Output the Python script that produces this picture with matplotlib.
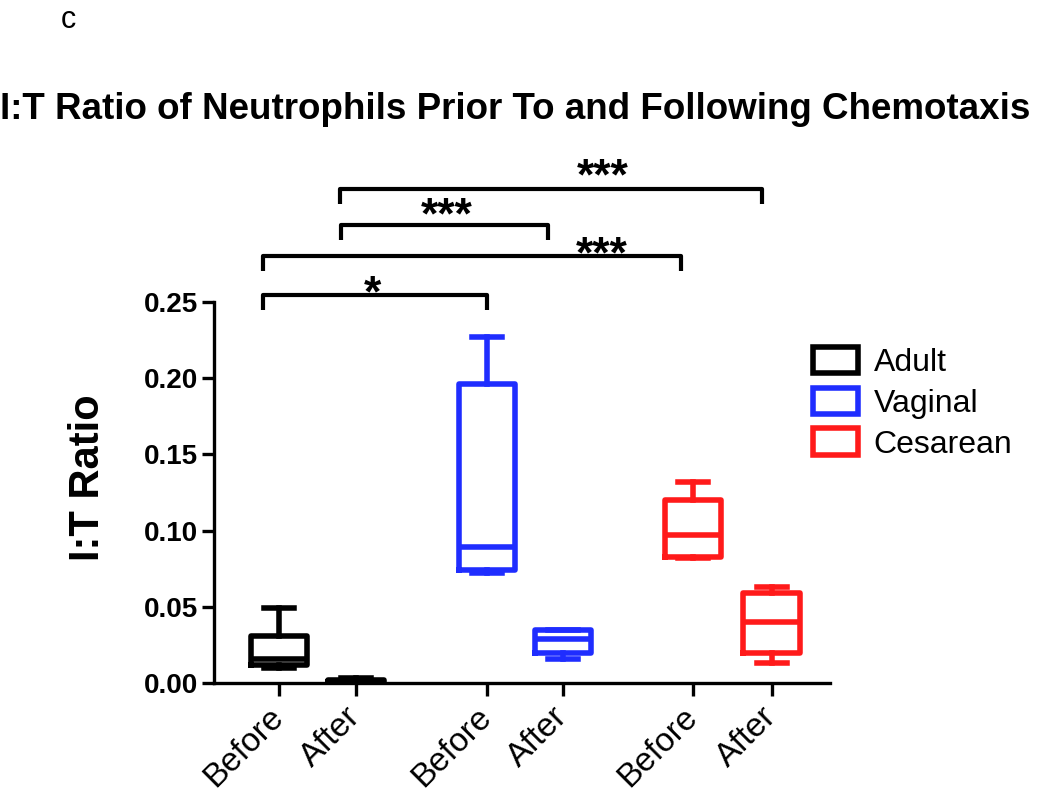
import matplotlib
matplotlib.use("Agg")
import matplotlib.pyplot as plt
from matplotlib.patches import Patch

plt.rcParams['font.family'] = ['Liberation Sans', 'DejaVu Sans']

# group / tick labels
groups = ['Adult', 'Vaginal', 'Cesarean']
colors = ['#000000', '#1f2dff', '#ff1a1a']
tick_labels = ['Before', 'After', 'Before', 'After', 'Before', 'After']
positions = [1.0, 2.0, 3.70, 4.69, 6.38, 7.40]

# box summaries (I:T ratio)
whislo = [0.010, 0.000, 0.072, 0.016, 0.082, 0.013]
q1 = [0.012, 0.0005, 0.074, 0.020, 0.083, 0.020]
med = [0.0155, 0.001, 0.089, 0.029, 0.097, 0.040]
q3 = [0.031, 0.002, 0.196, 0.035, 0.120, 0.059]
whishi = [0.049, 0.003, 0.227, 0.035, 0.132, 0.063]

# significance brackets: (x left, x right, line y, star x, star y, text)
brackets = [
    (1.79, 7.27, 0.3243, 5.21, 0.3315, '***'),
    (1.81, 4.49, 0.3007, 3.18, 0.306, '***'),
    (0.79, 6.23, 0.2803, 5.19, 0.2805, '***'),
    (0.79, 3.70, 0.2546, 2.21, 0.2545, '*'),
]
leg_len = 0.010

fig = plt.figure(figsize=(10.5, 7.95), dpi=100)
ax = fig.add_axes([0.2038, 0.1409, 0.5867, 0.4792])

stats = []
for i in range(len(positions)):
    stats.append(dict(whislo=whislo[i], q1=q1[i], med=med[i], q3=q3[i],
                      whishi=whishi[i], fliers=[]))

for i, st in enumerate(stats):
    c = colors[i // 2]
    ax.bxp([st], positions=[positions[i]], widths=0.73, capwidths=0.39,
           showfliers=False,
           boxprops=dict(color=c, lw=4),
           medianprops=dict(color=c, lw=4),
           whiskerprops=dict(color=c, lw=4),
           capprops=dict(color=c, lw=4))

ax.set_xlim(0.156, 8.16)
ax.set_ylim(0, 0.25)
ax.set_yticks([0, 0.05, 0.10, 0.15, 0.20, 0.25])
ax.set_yticklabels(['0.00', '0.05', '0.10', '0.15', '0.20', '0.25'],
                   fontweight='bold', fontsize=20)
ax.set_xticks(positions)
ax.set_xticklabels(tick_labels, rotation=45, ha='right', va='center',
                   rotation_mode='anchor', fontsize=24)
ax.tick_params(axis='y', length=8.5, width=2.4, pad=3)
ax.tick_params(axis='x', length=9, width=2.4, pad=12)
for s in ['top', 'right']:
    ax.spines[s].set_visible(False)
for s in ['left', 'bottom']:
    ax.spines[s].set_linewidth(2.4)

for x1, x2, y, sx, sy, txt in brackets:
    ax.plot([x1, x1, x2, x2], [y - leg_len, y, y, y - leg_len],
            color='black', lw=3, clip_on=False, solid_capstyle='butt')
    ax.text(sx, sy, txt, ha='center', va='center', fontsize=32,
            fontweight='bold', clip_on=False)

handles = [Patch(facecolor='white', edgecolor=c, lw=4, label=g)
           for g, c in zip(groups, colors)]
fig.legend(handles=handles, loc='upper left', bbox_to_anchor=(0.747, 0.600),
           frameon=False, fontsize=23, handlelength=1.4, handleheight=0.9,
           handletextpad=0.5, labelspacing=0.3)

fig.text(0.0, 0.862, 'I:T Ratio of Neutrophils Prior To and Following Chemotaxis',
         fontsize=26.5, fontweight='bold', ha='left', va='center')
fig.text(0.084, 0.399, 'I:T Ratio', rotation=90, fontsize=30,
         fontweight='bold', ha='center', va='center')
fig.text(0.058, 0.975, 'c', fontsize=22, ha='left', va='center')

fig.savefig('out.png', dpi=100)
